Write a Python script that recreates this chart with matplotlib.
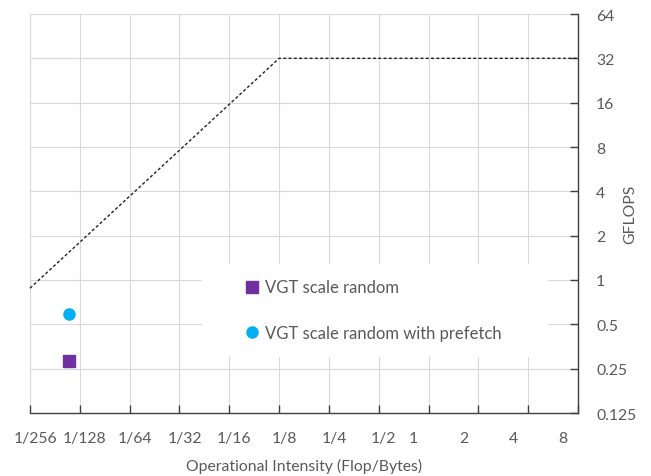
import matplotlib
matplotlib.use('Agg')
import matplotlib.pyplot as plt
import matplotlib.patches as patches
import matplotlib.transforms as transforms

# roofline: memory-bound slope up to the ridge point, then compute-bound ceiling
roof_x = [1 / 256, 1 / 8, 8]
roof_y = [0.88, 32, 32]

# measured kernels
labels = ['VGT scale random', 'VGT scale random with prefetch']
oi = [0.0067, 0.0067]
gflops = [0.283, 0.585]
markers = ['s', 'o']
colors = ['#7030A0', '#00B0F0']

xticks = [2.0 ** e for e in range(-8, 4)]
xtick_labels = ['1/256', '1/128', '1/64', '1/32', '1/16', '1/8', '1/4', '1/2',
                '1', '2', '4', '8']
yticks = [2.0 ** e for e in range(-3, 7)]
ytick_labels = ['0.125', '0.25', '0.5', '1', '2', '4', '8', '16', '32', '64']

plt.rcParams['font.family'] = ['Lato', 'DejaVu Sans']
grey = '#595959'

fig = plt.figure(figsize=(6.51, 4.77), dpi=100)
W, H = 651, 477
ax = fig.add_axes([30 / W, 1 - 414 / H, 548 / W, 399 / H])

ax.set_xscale('log', base=2)
ax.set_yscale('log', base=2)
ax.set_xlim(1 / 256, 8)
ax.set_ylim(0.125, 64)

ax.plot(roof_x, roof_y, color='#222222', lw=1.0, ls=(0, (2.2, 1.6)),
        zorder=3, clip_on=False)

for x, y, m, c, lab in zip(oi, gflops, markers, colors, labels):
    ax.plot([x], [y], ls='none', marker=m, ms=8.2 if m == 's' else 8,
            color=c, mec=c, label=lab, zorder=4)

ax.set_xticks(xticks)
ax.set_xticklabels(xtick_labels)
ax.set_yticks(yticks)
ax.set_yticklabels(ytick_labels)
ax.minorticks_off()

ax.yaxis.tick_right()
ax.yaxis.set_label_position('right')
ax.tick_params(axis='both', direction='in', length=6, width=1, color='#404040',
               labelsize=11.3, labelcolor=grey, pad=13)

# nudge labels the way the spreadsheet laid them out
for i, t in enumerate(ax.get_xticklabels()):
    dx = 5 if i < 8 else -15
    t.set_transform(t.get_transform() + transforms.ScaledTranslation(dx / 100, 0, fig.dpi_scale_trans))

ax.grid(True, color='#d9d9d9', lw=0.8, zorder=0)
ax.set_axisbelow(True)
for s in ['left', 'top']:
    ax.spines[s].set_visible(False)
for s in ['right', 'bottom']:
    ax.spines[s].set_color('#404040')
    ax.spines[s].set_linewidth(1)

ax.set_xlabel('Operational Intensity (Flop/Bytes)', fontsize=11.3, color=grey)
ax.xaxis.set_label_coords(0.5, -0.112)
ax.set_ylabel('GFLOPS', fontsize=11.3, color=grey)
ax.yaxis.set_label_coords(1.082, 0.5)

# white panel behind the legend
ax.add_patch(patches.Rectangle((0.314, 0.140), 0.631, 0.233, transform=ax.transAxes,
                               facecolor='white', edgecolor='none', zorder=2))
leg = ax.legend(loc='center left', bbox_to_anchor=(0.393, 0.258), frameon=False,
                fontsize=12, labelspacing=1.75, handlelength=0.8,
                handletextpad=0.4, borderpad=0, borderaxespad=0)
for t in leg.get_texts():
    t.set_color(grey)
leg.set_zorder(5)

fig.savefig('out.png', dpi=100)
